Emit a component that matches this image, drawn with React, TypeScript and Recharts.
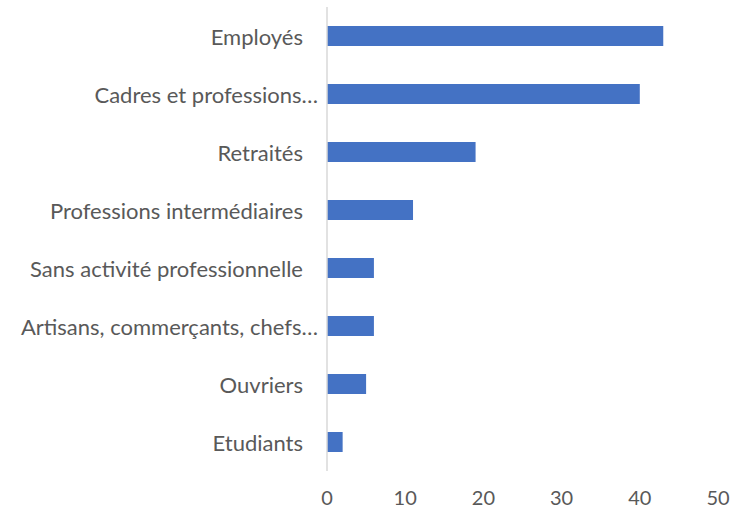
import { BarChart, Bar, XAxis, YAxis } from 'recharts';

const categories = [
  'Employés',
  'Cadres et professions…',
  'Retraités',
  'Professions intermédiaires',
  'Sans activité professionnelle',
  'Artisans, commerçants, chefs…',
  'Ouvriers',
  'Etudiants',
];
const values = [43, 40, 19, 11, 6, 6, 5, 2];
const xTicks = [0, 10, 20, 30, 40, 50];

const data = categories.map((name, i) => ({ name, value: values[i] }));

const FONT = 'Lato, "Open Sans", sans-serif';
const TEXT = '#595959';

function CategoryTick(props: any) {
  const { x, y, payload } = props;
  const label: string = payload.value;
  // Excel lets the ellipsis run a bit past the normal right edge
  const shift = label.endsWith('…') ? -1 : -16;
  return (
    <text
      x={x + shift}
      y={y}
      textAnchor="end"
      dominantBaseline="central"
      fill={TEXT}
      fontSize={22}
      fontFamily={FONT}
    >
      {label}
    </text>
  );
}

export default function App() {
  return (
    <div style={{ position: 'absolute', left: 0, top: 0, width: 738, height: 513, background: '#fff' }}>
      <BarChart
        width={738}
        height={513}
        data={data}
        layout="vertical"
        margin={{ top: 7, right: 20, bottom: 0, left: 0 }}
        barCategoryGap={19}
      >
        <XAxis
          type="number"
          domain={[0, 50]}
          ticks={xTicks}
          axisLine={false}
          tickLine={false}
          tickSize={0}
          tickMargin={20}
          height={42}
          tick={{ fill: TEXT, fontSize: 20, fontFamily: FONT }}
        />
        <YAxis
          type="category"
          dataKey="name"
          width={327}
          axisLine={{ stroke: '#d9d9d9', strokeWidth: 1.5 }}
          tickLine={false}
          tick={<CategoryTick />}
          interval={0}
        />
        <Bar dataKey="value" fill="#4472C4" barSize={20} isAnimationActive={false} />
      </BarChart>
    </div>
  );
}
